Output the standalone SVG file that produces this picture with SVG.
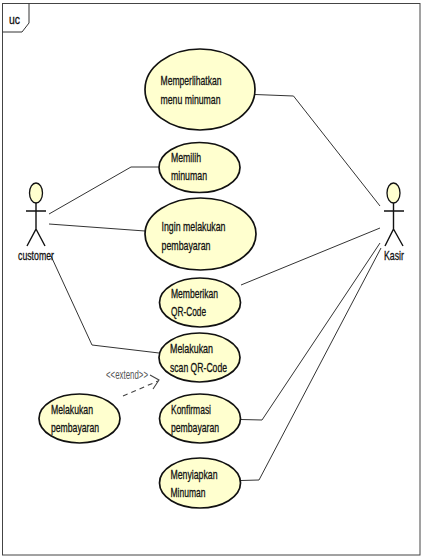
<svg xmlns="http://www.w3.org/2000/svg" width="424" height="557" viewBox="0 0 424 557">
<style>
text{font-family:"Liberation Sans",Arial,sans-serif;font-size:13px;fill:#111;stroke:#111;stroke-width:.3}
.uc{fill:#ffffcf;stroke:#111;stroke-width:1.7}
.c{fill:none;stroke:#333;stroke-width:1}
.a{fill:none;stroke:#111;stroke-width:1.4}
.h{fill:#ffffcf;stroke:#111;stroke-width:1.3}
</style>
<rect width="424" height="557" fill="#fff"/>
<g id="frame">
<rect x="2.500" y="3.500" width="417.500" height="551.500" fill="#fff" stroke="#444" stroke-width="1"/>
<path d="M2.500 32H22L29 23V3.500" fill="none" stroke="#333" stroke-width="1"/>
<text x="9" y="24" textLength="11" lengthAdjust="spacingAndGlyphs">uc</text>
</g>
<g id="connectors">
<path class="c" d="M255 94.500L293.500 96L380 206"/>
<path class="c" d="M49 214L131 167H159"/>
<path class="c" d="M49 224L145 231"/>
<path class="c" d="M241 285L380 228"/>
<path class="c" d="M51 256L92 345L159 353"/>
<path class="c" d="M241 419.500L262 420L380 243"/>
<path class="c" d="M241 480.500L259 480L381 248"/>
<path fill="none" stroke="#444" stroke-width="1.100" stroke-dasharray="5 4" d="M123 396L158 381"/>
<path fill="none" stroke="#444" stroke-width="1.100" d="M150 375L159 380L153 389"/>
<text x="106" y="379" textLength="42" lengthAdjust="spacingAndGlyphs" style="fill:#555;stroke:none;font-size:12px">&lt;&lt;extend&gt;&gt;</text>
</g>
<g id="customer">
<ellipse class="h" cx="36" cy="193" rx="6.500" ry="10"/>
<path class="a" d="M26 211H46M36 203V229L27 246M36 229L45 246"/>
<text x="18" y="260" textLength="36" lengthAdjust="spacingAndGlyphs">customer</text>
</g>
<g id="kasir">
<ellipse class="h" cx="393.500" cy="193" rx="6.500" ry="10"/>
<path class="a" d="M384 211H404M393.500 203V229L385 246M393.500 229L403 246"/>
<text x="384" y="260" textLength="20" lengthAdjust="spacingAndGlyphs">Kasir</text>
</g>
<g id="uc1"><ellipse class="uc" cx="200" cy="89.500" rx="55" ry="40.500"/>
<text x="160.500" y="85" textLength="61" lengthAdjust="spacingAndGlyphs">Memperlihatkan</text>
<text x="160.500" y="104" textLength="60" lengthAdjust="spacingAndGlyphs">menu minuman</text></g>
<g id="uc2"><ellipse class="uc" cx="199.500" cy="167.500" rx="40.500" ry="25"/>
<text x="171" y="162" textLength="30" lengthAdjust="spacingAndGlyphs">Memilih</text>
<text x="171" y="180" textLength="36" lengthAdjust="spacingAndGlyphs">minuman</text></g>
<g id="uc3"><ellipse class="uc" cx="200.500" cy="234" rx="55.500" ry="36"/>
<text x="161.500" y="231" textLength="64" lengthAdjust="spacingAndGlyphs">Ingin melakukan</text>
<text x="161.500" y="250" textLength="49" lengthAdjust="spacingAndGlyphs">pembayaran</text></g>
<g id="uc4"><ellipse class="uc" cx="200" cy="302.500" rx="40.500" ry="24.500"/>
<text x="171" y="298" textLength="47" lengthAdjust="spacingAndGlyphs">Memberikan</text>
<text x="171" y="316" textLength="35" lengthAdjust="spacingAndGlyphs">QR-Code</text></g>
<g id="uc5"><ellipse class="uc" cx="199.500" cy="357.500" rx="40.500" ry="24.500"/>
<text x="170" y="353" textLength="43" lengthAdjust="spacingAndGlyphs">Melakukan</text>
<text x="170" y="372" textLength="57" lengthAdjust="spacingAndGlyphs">scan QR-Code</text></g>
<g id="uc6"><ellipse class="uc" cx="200" cy="418.500" rx="40.500" ry="24.500"/>
<text x="171" y="414" textLength="40" lengthAdjust="spacingAndGlyphs">Konfirmasi</text>
<text x="171" y="432" textLength="48" lengthAdjust="spacingAndGlyphs">pembayaran</text></g>
<g id="uc7"><ellipse class="uc" cx="200" cy="483" rx="40.500" ry="25"/>
<text x="170.500" y="479" textLength="47" lengthAdjust="spacingAndGlyphs">Menyiapkan</text>
<text x="170.500" y="497" textLength="35" lengthAdjust="spacingAndGlyphs">Minuman</text></g>
<g id="uc8"><ellipse class="uc" cx="79.500" cy="418.500" rx="40.500" ry="24.500"/>
<text x="51" y="414" textLength="42" lengthAdjust="spacingAndGlyphs">Melakukan</text>
<text x="51" y="432" textLength="48" lengthAdjust="spacingAndGlyphs">pembayaran</text></g>
</svg>
